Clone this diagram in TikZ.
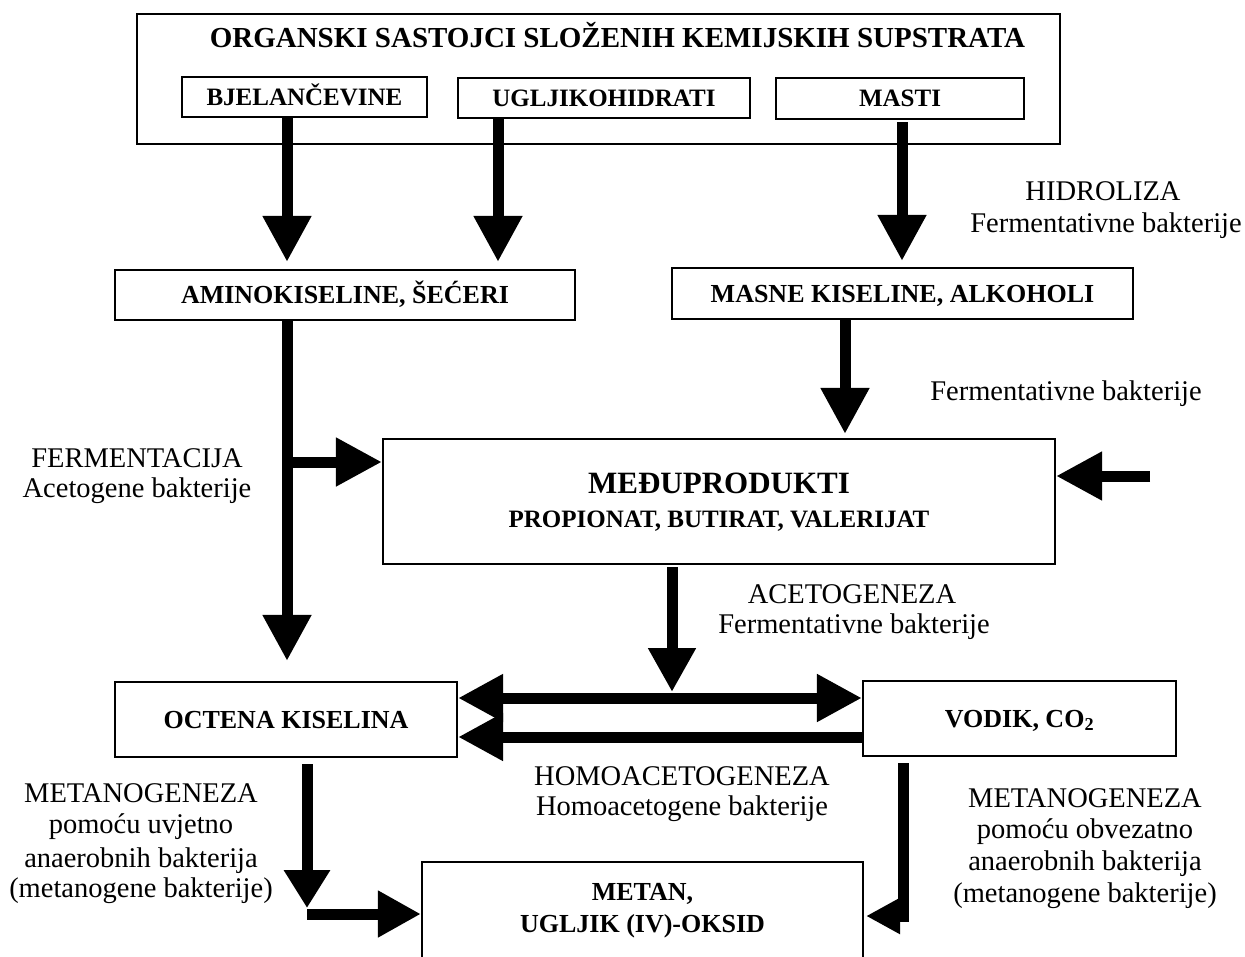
\documentclass[tikz,border=0pt]{standalone}
\usepackage{fontspec}
\setmainfont{Liberation Serif}
\usetikzlibrary{arrows.meta,calc}
\tikzset{
  box/.style={draw, line width=2.2pt, rectangle, inner sep=0pt,
    font=\bfseries\fontsize{25}{30}\selectfont, text height=16.5pt, text depth=0pt},
  bigbox/.style={box, font=\bfseries\fontsize{26}{30}\selectfont, text height=17pt},
  btext/.style={anchor=base, inner sep=0pt, font=\bfseries\fontsize{26}{30}\selectfont},
  lbl/.style={anchor=base, inner sep=0pt, font=\fontsize{28.5}{31}\selectfont},
  shaft/.style={line width=11pt},
  fat/.style={line width=11pt, -{Triangle[length=46pt,width=46pt]}},
  dbl/.style={line width=11pt, {Triangle[length=45pt,width=45pt]}-{Triangle[length=45pt,width=45pt]}},
}
\begin{document}
\begin{tikzpicture}[x=1pt, y=-1pt]
\useasboundingbox (0,0) rectangle (1245,956);
\fill[white] (0,0) rectangle (1245,956);
\clip (0,0) rectangle (1245,956);

% top block
\node[box, minimum width=923pt, minimum height=130pt] (outer) at (598.5,79) {};
\node[btext, font=\bfseries\fontsize{29}{34}\selectfont] (title) at (617.5,47)
  {ORGANSKI SASTOJCI SLOŽENIH KEMIJSKIH SUPSTRATA};
\node[box, minimum width=245pt, minimum height=40pt] (bj) at (304.5,97) {BJELANČEVINE};
\node[box, minimum width=292pt, minimum height=40pt] (ug) at (604,98) {UGLJIKOHIDRATI};
\node[box, minimum width=248pt, minimum height=41pt] (ma) at (900,98.5) {MASTI};

% second row
\node[bigbox, minimum width=460pt, minimum height=50pt] (am) at (345,295) {AMINOKISELINE, ŠEĆERI};
\node[bigbox, minimum width=461pt, minimum height=51pt] (mk) at (902.5,293.5) {MASNE KISELINE, ALKOHOLI};

% intermediate
\node[box, minimum width=672pt, minimum height=125pt] (med) at (719,501.5) {};
\node[btext, font=\bfseries\fontsize{31}{36}\selectfont] (medt) at (719,493) {MEĐUPRODUKTI};
\node[btext, font=\bfseries\fontsize{25}{30}\selectfont] (medp) at (719,527) {PROPIONAT, BUTIRAT, VALERIJAT};

% acetic acid / hydrogen
\node[bigbox, minimum width=342pt, minimum height=75pt] (oc) at (286,719.5) {OCTENA KISELINA};
\node[bigbox, minimum width=313pt, minimum height=75pt] (vo) at (1019.5,718.5) {VODIK, CO\textsubscript{2}};

% methane
\node[box, minimum width=441pt, minimum height=160pt] (me) at (642.5,942) {};
\node[btext] (met1) at (642.5,900) {METAN,};
\node[btext] (met2) at (642.5,932) {UGLJIK (IV)-OKSID};

% helper coordinates
\coordinate (xa) at (287,0);
\coordinate (xb) at (498,0);
\coordinate (xc) at (902,0);
\coordinate (xd) at (845,0);
\coordinate (xe) at (672,0);
\coordinate (xf) at (307,0);
\coordinate (xg) at (903,0);
\coordinate (br) at (287,462);
\coordinate (rin) at (1150,476);
\coordinate (yu) at (0,698);
\coordinate (yl) at (0,737);
\coordinate (yd) at (0,908);
\coordinate (yb) at (0,914);
\coordinate (yr) at (0,916);
\coordinate (yv) at (0,922);

% connectors
\draw[fat, shorten >=7pt] (bj.south -| xa) -- (am.north -| xa);
\draw[fat, shorten >=7pt] (ug.south -| xb) -- (am.north -| xb);
\draw[fat, shorten >=6pt, shorten <=2pt] (ma.south -| xc) -- (mk.north -| xc);
\draw[fat, shorten >=4pt] (mk.south -| xd) -- (med.north -| xd);
\draw[fat, shorten >=20pt] (am.south -| xa) -- (oc.north -| xa);
\draw[fat] (br) -- (br -| med.west);
\draw[fat] (rin) -- (rin -| med.east);
\draw[fat, -{Triangle[length=44pt,width=45pt]}, shorten <=2pt, shorten >=6pt] (med.south -| xe) -- (xe |- yu);
\draw[dbl] (oc.east |- yu) -- (vo.west |- yu);
\draw[fat, -{Triangle[length=45pt,width=45pt]}] (vo.west |- yl) -- (oc.east |- yl);
\draw[fat, -{Triangle[length=38pt,width=44pt]}, shorten <=6pt] (oc.south -| xf) -- (xf |- yd);
\draw[fat, -{Triangle[length=43pt,width=44pt]}] (xf |- yb) -- (me.west |- yb);
\draw[shaft, shorten <=6pt] (vo.south -| xg) -- (xg |- yv);
\draw[fat, -{Triangle[length=34pt,width=34pt]}, shorten >=2pt] (xg |- yr) -- (me.east |- yr);

% labels
\node[lbl] (l1a) at (1103,200) {HIDROLIZA};
\node[lbl] (l1b) at (1106,232) {Fermentativne bakterije};
\node[lbl] (l2) at (1066,400) {Fermentativne bakterije};
\node[lbl] (l3a) at (137,467) {FERMENTACIJA};
\node[lbl] (l3b) at (137,497) {Acetogene bakterije};
\node[lbl] (l4a) at (852,603) {ACETOGENEZA};
\node[lbl] (l4b) at (854,633) {Fermentativne bakterije};
\node[lbl] (l5a) at (682,785) {HOMOACETOGENEZA};
\node[lbl] (l5b) at (682,815) {Homoacetogene bakterije};
\node[lbl] (l6a) at (141,802) {METANOGENEZA};
\node[lbl] (l6b) at (141,833) {pomoću uvjetno};
\node[lbl] (l6c) at (141,867) {anaerobnih bakterija};
\node[lbl] (l6d) at (141,897) {(metanogene bakterije)};
\node[lbl] (l7a) at (1085,807) {METANOGENEZA};
\node[lbl] (l7b) at (1085,838) {pomoću obvezatno};
\node[lbl] (l7c) at (1085,870) {anaerobnih bakterija};
\node[lbl] (l7d) at (1085,902) {(metanogene bakterije)};
\end{tikzpicture}
\end{document}
